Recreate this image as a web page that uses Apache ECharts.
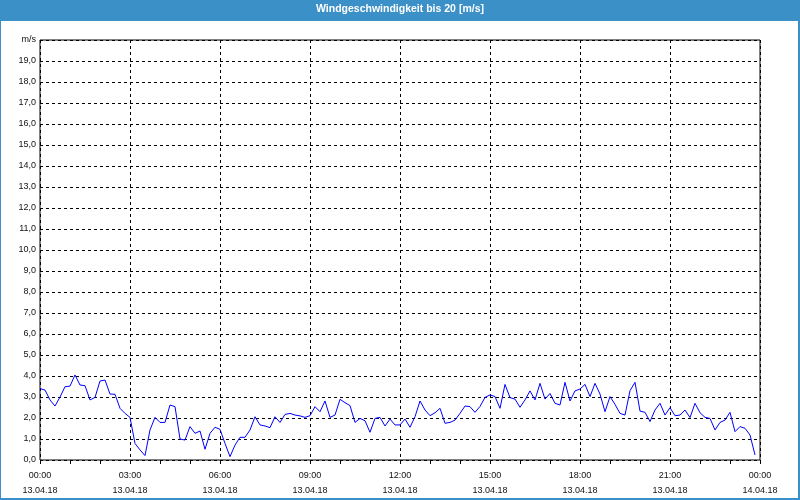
<!DOCTYPE html>
<html>
<head>
<meta charset="utf-8">
<script src="https://cdn.jsdelivr.net/npm/echarts@6/dist/echarts.min.js"></script>
<style>
html,body{margin:0;padding:0;background:#fff;}
#chart{width:800px;height:500px;}
</style>
</head>
<body>
<div id="chart"></div>
<script>
// Wind speed [m/s], 10-minute samples from 13.04.18 00:00 to 23:50
var speeds = [
  3.40, 3.33, 2.86, 2.57, 3.00, 3.49, 3.52, 4.05, 3.57, 3.54, 2.86, 2.98,
  3.76, 3.81, 3.14, 3.13, 2.46, 2.22, 2.03, 0.79, 0.48, 0.21, 1.43, 2.03,
  1.79, 1.79, 2.62, 2.54, 1.00, 0.95, 1.59, 1.27, 1.38, 0.51, 1.27, 1.56,
  1.46, 0.79, 0.16, 0.71, 1.08, 1.08, 1.43, 2.06, 1.67, 1.62, 1.54, 2.06,
  1.79, 2.17, 2.22, 2.14, 2.10, 2.03, 2.11, 2.54, 2.30, 2.81, 2.03, 2.14,
  2.89, 2.73, 2.59, 1.79, 1.98, 1.87, 1.32, 1.98, 2.03, 1.62, 1.95, 1.67,
  1.67, 1.95, 1.56, 2.06, 2.81, 2.38, 2.11, 2.25, 2.46, 1.75, 1.79, 1.90,
  2.22, 2.57, 2.54, 2.27, 2.55, 2.98, 3.10, 3.02, 2.46, 3.60, 2.97, 2.90,
  2.51, 2.86, 3.29, 2.86, 3.65, 2.90, 3.17, 2.70, 2.62, 3.70, 2.81, 3.29,
  3.38, 3.60, 3.02, 3.65, 3.14, 2.30, 3.02, 2.65, 2.22, 2.14, 3.30, 3.70,
  2.33, 2.27, 1.83, 2.38, 2.70, 2.14, 2.49, 2.11, 2.14, 2.38, 2.02, 2.70,
  2.25, 2.03, 1.98, 1.43, 1.79, 1.90, 2.27, 1.35, 1.59, 1.51, 1.19, 0.24
];
var sampleMinutes = 10;
var xTickTimes = ['00:00','03:00','06:00','09:00','12:00','15:00','18:00','21:00','00:00'];
var xTickDates = ['13.04.18','13.04.18','13.04.18','13.04.18','13.04.18','13.04.18','13.04.18','13.04.18','14.04.18'];
var yUnit = 'm/s';
var titleText = 'Windgeschwindigkeit bis 20 [m/s]';

var data = speeds.map(function (v, i) { return [i * sampleMinutes, v]; });

var chart = echarts.init(document.getElementById('chart'));
var FONT = 'Liberation Sans';
chart.setOption({
  animation: false,
  backgroundColor: '#ffffff',
  graphic: [
    {type: 'rect', shape: {x: 0, y: 0, width: 800, height: 21}, style: {fill: '#3b90c8'}, silent: true},
    {type: 'rect', shape: {x: 0, y: 0, width: 1, height: 500}, style: {fill: '#3b90c8'}, silent: true},
    {type: 'rect', shape: {x: 798, y: 0, width: 2, height: 500}, style: {fill: '#3b90c8'}, silent: true},
    {type: 'rect', shape: {x: 0, y: 498, width: 800, height: 2}, style: {fill: '#3b90c8'}, silent: true}
  ],
  title: {
    text: titleText,
    left: 'center',
    top: 4,
    padding: 0,
    textStyle: {color: '#ffffff', fontFamily: FONT, fontSize: 10.5, fontWeight: 'bold'}
  },
  grid: {
    left: 40, right: 40, top: 40, bottom: 40,
    show: true, borderColor: '#000', borderWidth: 1, backgroundColor: 'transparent'
  },
  xAxis: {
    type: 'value',
    min: 0, max: 1440, interval: 180,
    axisLine: {show: false},
    axisTick: {show: true, length: 4, lineStyle: {color: '#000'}},
    minorTick: {show: true, splitNumber: 3, length: 4, lineStyle: {color: '#000'}},
    splitLine: {show: true, lineStyle: {color: '#000', type: [3, 3], width: 1}},
    axisLabel: {
      margin: 8,
      color: '#111',
      fontFamily: FONT,
      fontSize: 9,
      lineHeight: 15,
      formatter: function (v) {
        var k = Math.round(v / 180);
        return xTickTimes[k] + '\n' + xTickDates[k];
      }
    }
  },
  yAxis: {
    type: 'value',
    min: 0, max: 20, interval: 1,
    axisLine: {show: false},
    axisTick: {show: false},
    splitLine: {show: true, lineStyle: {color: '#000', type: [3, 3], width: 1}},
    axisLabel: {
      margin: 4,
      color: '#111',
      fontFamily: FONT,
      fontSize: 9,
      formatter: function (v) {
        if (v === 20) return yUnit;
        return v.toFixed(1).replace('.', ',');
      }
    }
  },
  series: [{
    type: 'line',
    data: data,
    showSymbol: false,
    symbol: 'none',
    lineStyle: {color: '#0000ff', width: 1},
    silent: true
  }]
});
</script>
</body>
</html>
